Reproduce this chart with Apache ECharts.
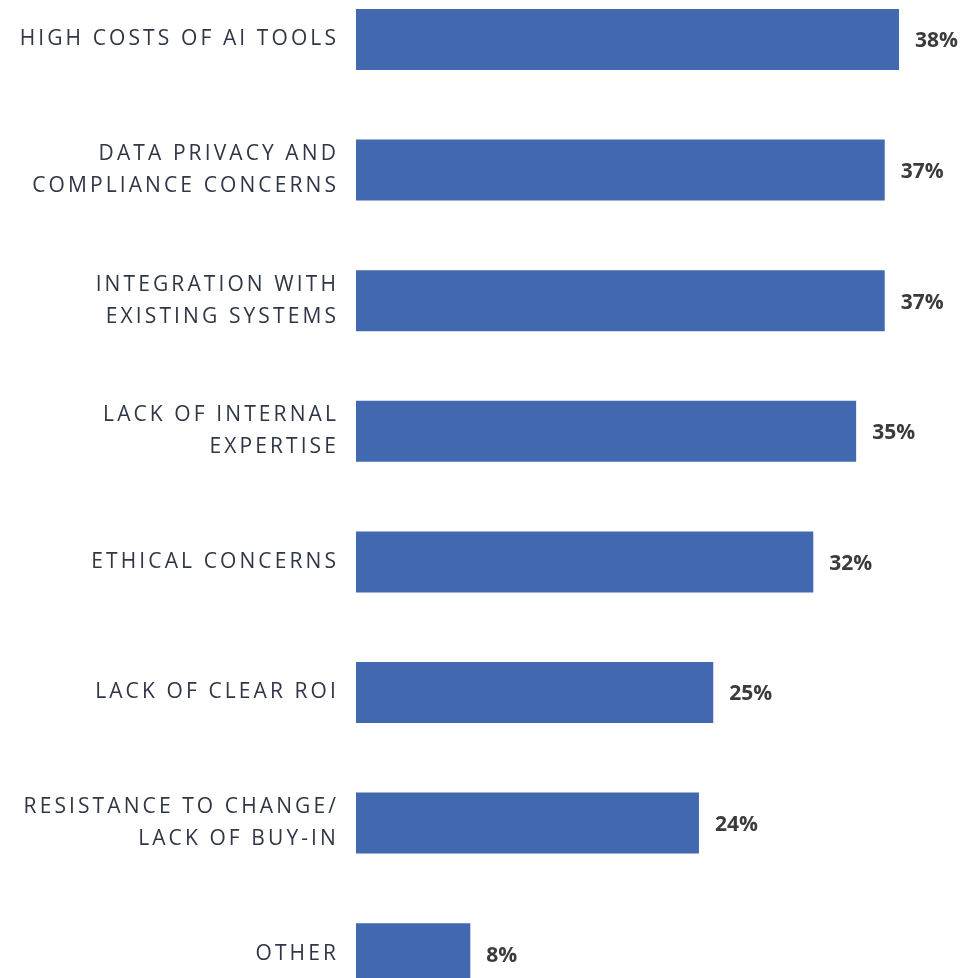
<!DOCTYPE html>
<html>
<head>
<meta charset="utf-8">
<script src="https://cdn.jsdelivr.net/npm/echarts@6/dist/echarts.min.js"></script>
<style>
  html, body { margin: 0; padding: 0; background: #ffffff; }
  #chart { width: 978px; height: 978px; }
</style>
</head>
<body>
<div id="chart"></div>
<script>
// Barriers to adoption, share of respondents (%)
const categories = [
  'HIGH COSTS OF AI TOOLS',
  'DATA PRIVACY AND\nCOMPLIANCE CONCERNS',
  'INTEGRATION WITH\nEXISTING SYSTEMS',
  'LACK OF INTERNAL\nEXPERTISE',
  'ETHICAL CONCERNS',
  'LACK OF CLEAR ROI',
  'RESISTANCE TO CHANGE/\nLACK OF BUY-IN',
  'OTHER'
];
const values = [38, 37, 37, 35, 32, 25, 24, 8];

// Tracked (letter-spaced) category labels; the percentage labels keep normal spacing.
const baseFillText = CanvasRenderingContext2D.prototype.fillText;
CanvasRenderingContext2D.prototype.fillText = function (text, x, y, maxWidth) {
  const prev = this.letterSpacing;
  this.letterSpacing = /%$/.test(String(text)) ? '0px' : '3.1px';
  if (maxWidth === undefined) baseFillText.call(this, text, x, y);
  else baseFillText.call(this, text, x, y, maxWidth);
  this.letterSpacing = prev;
};

const chart = echarts.init(document.getElementById('chart'), null, { renderer: 'canvas' });

chart.setOption({
  animation: false,
  backgroundColor: '#ffffff',
  grid: {
    left: 356, top: -25.8, height: 1044.8, right: 50.4,
    containLabel: false,
    outerBoundsMode: 'none'
  },
  xAxis: {
    type: 'value',
    min: 0,
    max: 40,
    show: false
  },
  yAxis: {
    type: 'category',
    data: categories,
    inverse: true,
    axisLine: { show: false },
    axisTick: { show: false },
    splitLine: { show: false },
    axisLabel: {
      margin: 17,
      color: '#2f3645',
      fontFamily: 'Open Sans',
      fontSize: 21,
      lineHeight: 32,
      align: 'right',
      offset: [0, -1]
    }
  },
  series: [{
    type: 'bar',
    data: values,
    barWidth: 61,
    itemStyle: { color: '#4268B0' },
    label: {
      show: true,
      position: 'right',
      distance: 16,
      offset: [0, 2],
      formatter: '{c}%',
      color: '#3b3b3b',
      fontFamily: 'Open Sans',
      fontWeight: 'bold',
      fontSize: 21
    }
  }]
});
</script>
</body>
</html>
